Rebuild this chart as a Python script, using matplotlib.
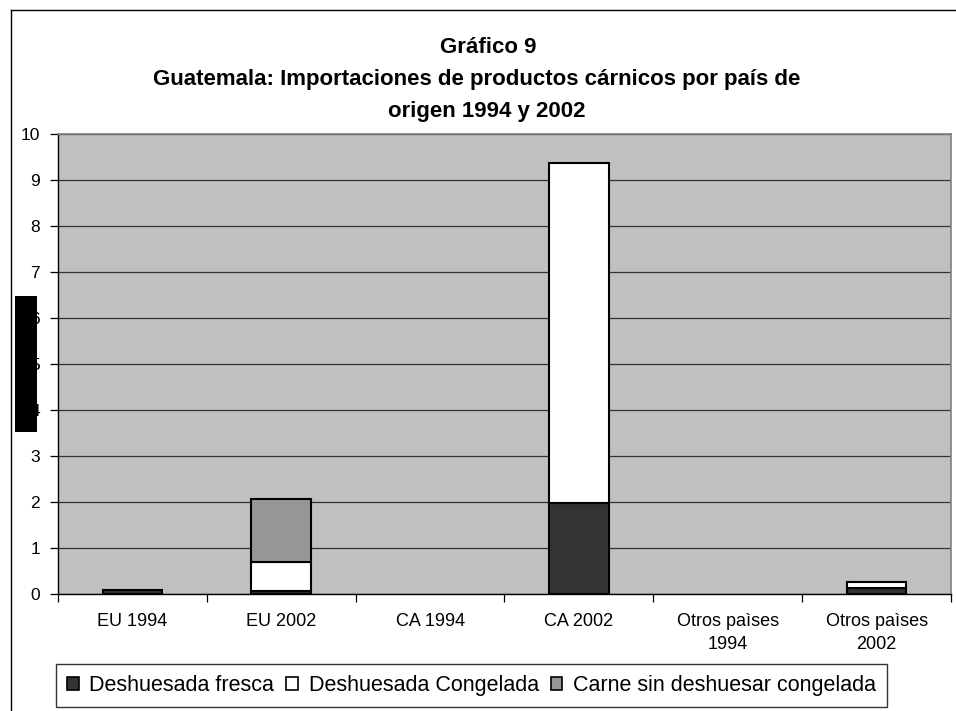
import numpy as np
import matplotlib as mlt
mlt.use('Agg')
from matplotlib import pyplot as plt
from matplotlib.patches import Rectangle, Patch
from matplotlib.lines import Line2D

plt.rcParams['font.family'] = ['Liberation Sans', 'DejaVu Sans']

# categories and stacked series
categories = ['EU 1994', 'EU 2002', 'CA 1994', 'CA 2002',
              'Otros paìses\n1994', 'Otros paìses\n2002']
fresca     = [0.08, 0.05, 0.0, 1.96, 0.0, 0.13]
congelada  = [0.0, 0.63, 0.0, 7.40, 0.0, 0.12]
sin_deshue = [0.0, 1.37, 0.0, 0.0, 0.0, 0.0]

series_names = ['Deshuesada fresca', 'Deshuesada Congelada',
                'Carne sin deshuesar congelada']
series_colors = ['#333333', '#ffffff', '#969696']

W, H = 956, 711
fig = plt.figure(figsize=(W/100, H/100), dpi=100)
ax = fig.add_axes([58/W, 1 - 593.5/H, 893/W, (593.5 - 134)/H])
ax.set_facecolor('#c0c0c0')

x = np.arange(len(categories))
bottom = np.zeros(len(categories))
for vals, col in zip([fresca, congelada, sin_deshue], series_colors):
    vals = np.array(vals)
    mask = vals > 0
    ax.bar(x[mask], vals[mask], width=0.4, bottom=bottom[mask], color=col,
           edgecolor='black', linewidth=1.5, zorder=3)
    bottom += vals

ax.set_xlim(-0.5, len(categories) - 0.5)
ax.set_ylim(0, 10)
ax.set_yticks(range(0, 11))
ax.yaxis.grid(True, color='#333333', linewidth=0.9, zorder=1)
ax.tick_params(axis='y', labelsize=12.5, length=6, width=0.9, pad=7, colors='black')

ax.set_xticks(np.arange(-0.5, len(categories), 1.0))
ax.set_xticklabels([])
ax.set_xticks(x, minor=True)
ax.set_xticklabels(categories, minor=True, fontsize=13, linespacing=1.5)
ax.tick_params(axis='x', which='major', length=6, width=0.9, direction='out')
ax.tick_params(axis='x', which='minor', length=0, pad=14)

for side in ['top', 'right']:
    ax.spines[side].set_color('#808080')
    ax.spines[side].set_linewidth(1.2)
for side in ['left', 'bottom']:
    ax.spines[side].set_color('black')
    ax.spines[side].set_linewidth(1.0)

# title
fig.text(488/W, 1 - 52.7/H, 'Gráfico 9', ha='center', va='baseline',
         fontsize=16, fontweight='bold')
fig.text(477/W, 1 - 85/H,
         'Guatemala: Importaciones de productos cárnicos por país de',
         ha='center', va='baseline', fontsize=16, fontweight='bold')
fig.text(487/W, 1 - 116.7/H, 'origen 1994 y 2002', ha='center',
         va='baseline', fontsize=16, fontweight='bold')

# legend
handles = [Patch(facecolor=c, edgecolor='black', linewidth=1.2) for c in series_colors]
leg = fig.legend(handles, series_names, loc='upper left',
                 bbox_to_anchor=(56/W, 1 - 664/H), ncol=3, fontsize=15.5,
                 frameon=True, fancybox=False, borderaxespad=0,
                 handlelength=0.55, handleheight=0.55, handletextpad=0.5,
                 columnspacing=0.55, borderpad=0.5)
leg.get_frame().set_edgecolor('black')
leg.get_frame().set_linewidth(1.0)

# outer chart border (left and top visible) and the black block over the y label
fig.add_artist(Line2D([11/W, 11/W], [0, 1 - 10/H], transform=fig.transFigure,
                      color='black', linewidth=1.0))
fig.add_artist(Line2D([11/W, 1], [1 - 10/H, 1 - 10/H], transform=fig.transFigure,
                      color='black', linewidth=1.0))
fig.add_artist(Rectangle((15/W, 1 - 432/H), 22/W, 136/H, transform=fig.transFigure,
                         facecolor='black', edgecolor='none', zorder=10))

plt.savefig('out.png', dpi=100)
